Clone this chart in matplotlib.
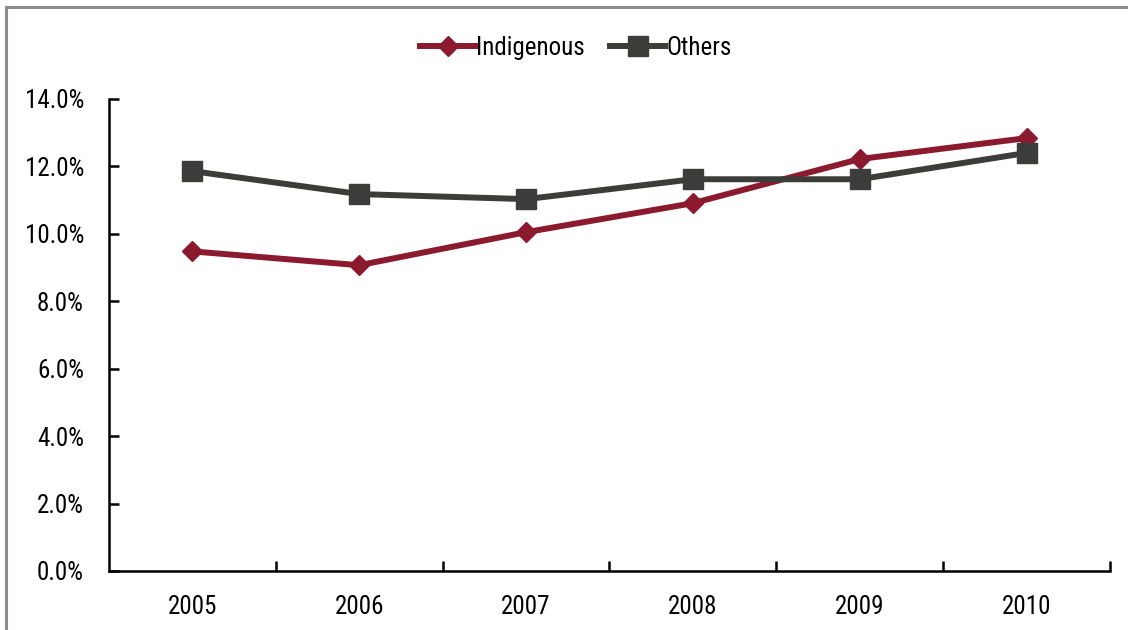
import matplotlib
matplotlib.use("Agg")
import matplotlib.pyplot as plt
from matplotlib.patches import Rectangle
from matplotlib.ticker import FuncFormatter

# Share of the group, by year
years = ["2005", "2006", "2007", "2008", "2009", "2010"]
indigenous = [9.48, 9.07, 10.05, 10.91, 12.22, 12.84]
others = [11.86, 11.18, 11.03, 11.62, 11.62, 12.40]

plt.rcParams['font.family'] = ['Roboto Condensed', 'Liberation Sans', 'DejaVu Sans']

fig = plt.figure(figsize=(11.28, 6.3), dpi=100)
ax = fig.add_axes([109 / 1128, 1 - 571 / 630, (1110 - 109) / 1128, (571 - 99) / 630])

# thin grey frame around the chart area
fig.patches.append(Rectangle((6 / 1128, -0.1), 1.2, 1.1 - 7 / 630,
                             transform=fig.transFigure, fill=False,
                             edgecolor='#8c8c8c', linewidth=2.2))

x = range(len(years))
ax.plot(x, indigenous, color='#8b1a2e', linewidth=4.3, marker='D',
        markersize=10.5, label='Indigenous')
ax.plot(x, others, color='#3c3c3a', linewidth=4.3, marker='s',
        markersize=14, label='Others')

ax.set_xlim(-0.5, len(years) - 0.5)
ax.set_ylim(0, 14)
ax.set_yticks(range(0, 15, 2))
ax.yaxis.set_major_formatter(FuncFormatter(lambda v, p: f"{v:.1f}%"))
ax.set_xticks(list(x))
ax.set_xticklabels(years)
ax.set_xticks([i + 0.5 for i in x], minor=True)

for side in ('top', 'right'):
    ax.spines[side].set_visible(False)
for side in ('left', 'bottom'):
    ax.spines[side].set_linewidth(1.8)

ax.tick_params(axis='y', direction='in', length=7, width=1.8, pad=18, labelsize=18)
ax.tick_params(axis='x', which='major', length=0, pad=17, labelsize=18)
ax.tick_params(axis='x', which='minor', direction='in', length=7, width=1.8)

ax.legend(loc='center', bbox_to_anchor=((576 - 109) / 1001, (571 - 48) / (571 - 99)),
          ncol=2, frameon=False, fontsize=18, handlelength=2.2,
          handletextpad=0.05, columnspacing=1.0)

fig.savefig("out.png", dpi=100)
